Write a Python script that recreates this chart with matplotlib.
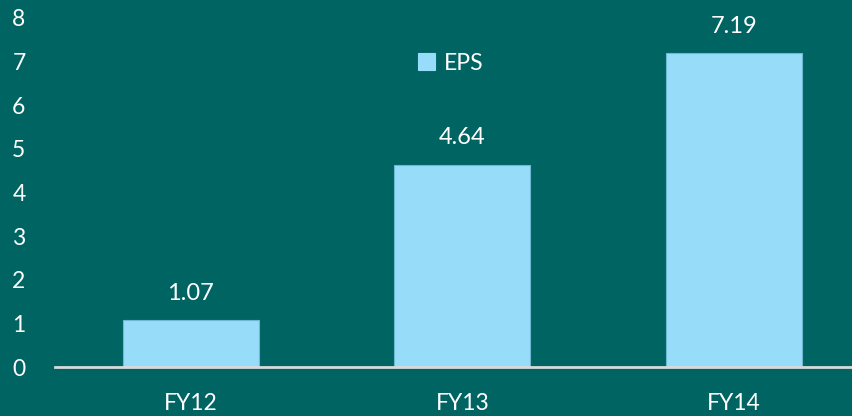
import matplotlib
matplotlib.use("Agg")
import matplotlib.pyplot as plt

years = ["FY12", "FY13", "FY14"]
eps = [1.07, 4.64, 7.19]

BG = "#006462"
BAR = "#97DCF8"
TXT = "#FFFFFF"

plt.rcParams["font.family"] = ["Lato", "DejaVu Sans"]

fig = plt.figure(figsize=(8.52, 4.16), dpi=100, facecolor=BG)
ax = fig.add_axes([55 / 852, 49 / 416, 814.5 / 852, 349 / 416])
ax.set_facecolor(BG)

x = range(len(years))
bars = ax.bar(x, eps, width=0.5, color=BAR, edgecolor="#6FB8D4",
              linewidth=0.8, label="EPS", zorder=2)
for b, v in zip(bars, eps):
    ax.annotate(f"{v:.2f}", (b.get_x() + b.get_width() / 2, v),
                textcoords="offset points", xytext=(0, 12),
                ha="center", va="bottom", color=TXT, fontsize=17)

ax.set_xlim(-0.5, 2.5)
ax.set_ylim(0, 8)
ax.set_yticks(range(0, 9))
ax.set_xticks(list(x))
ax.set_xticklabels(years)

for s in ["top", "right", "left"]:
    ax.spines[s].set_visible(False)
ax.spines["bottom"].set_color("#D9D9D9")
ax.spines["bottom"].set_linewidth(2)
ax.spines["bottom"].set_zorder(3)

ax.tick_params(axis="y", length=0, colors=TXT, labelsize=16.5, pad=26)
ax.tick_params(axis="x", length=0, colors=TXT, labelsize=16.5, pad=19)
for lbl in ax.get_yticklabels():
    lbl.set_horizontalalignment("center")

leg = fig.legend(loc="center", bbox_to_anchor=(451 / 852, 1 - 63 / 416),
                 frameon=False, fontsize=16.5, handlelength=0.75,
                 handleheight=0.75, handletextpad=0.4)
for t in leg.get_texts():
    t.set_color(TXT)
for h in leg.legend_handles:
    h.set_edgecolor(BAR)

fig.savefig("out.png", dpi=100, facecolor=BG)
